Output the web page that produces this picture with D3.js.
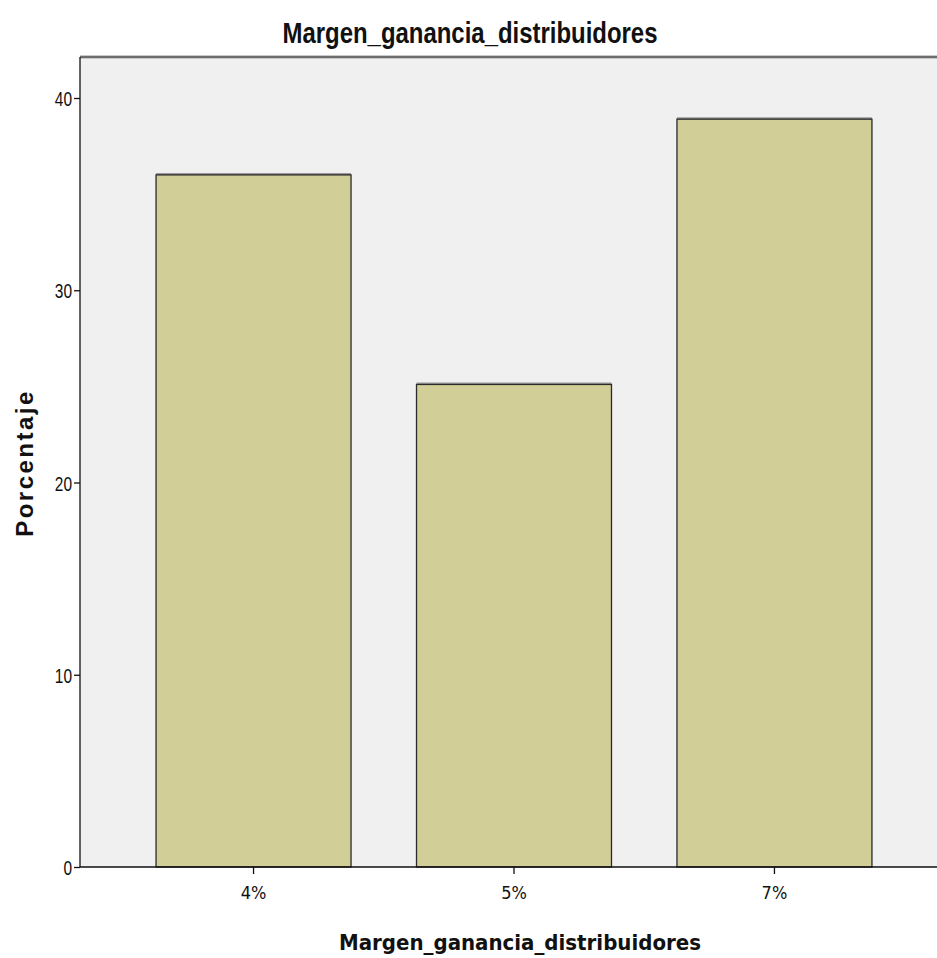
<!DOCTYPE html>
<html>
<head>
<meta charset="utf-8">
<script src="https://cdn.jsdelivr.net/npm/d3@7"></script>
<style>
  html, body { margin: 0; padding: 0; background: #ffffff; }
  svg { display: block; }
</style>
</head>
<body>
<script>
// Percentage of distributors by profit margin
const categories = ["4%", "5%", "7%"];
const percentages = [36.0, 25.1, 38.9];
const yTicks = [0, 10, 20, 30, 40];
const chartTitle = "Margen_ganancia_distribuidores";
const xTitle = "Margen_ganancia_distribuidores";
const yTitle = "Porcentaje";

const W = 937, H = 958;
const plot = { left: 80, top: 57, right: 948, bottom: 867 };

const svg = d3.select("body").append("svg")
  .attr("width", W).attr("height", H);

const x = d3.scaleBand()
  .domain(categories)
  .range([plot.left, plot.right])
  .paddingInner(0.2514)
  .paddingOuter(0.292);

const y = d3.scaleLinear()
  .domain([0, 40])
  .range([plot.bottom, 98]);

// Plot background
svg.append("rect")
  .attr("x", plot.left).attr("y", plot.top)
  .attr("width", plot.right - plot.left)
  .attr("height", plot.bottom - plot.top)
  .attr("fill", "#f0f0f0");

// Top frame line with soft shadow
svg.append("line")
  .attr("x1", plot.left).attr("x2", plot.right)
  .attr("y1", plot.top).attr("y2", plot.top)
  .attr("stroke", "#b8b8b8").attr("stroke-width", 3.5);
svg.append("line")
  .attr("x1", plot.left).attr("x2", plot.right)
  .attr("y1", plot.top).attr("y2", plot.top)
  .attr("stroke", "#555").attr("stroke-width", 1.3);

// Bars
const bars = svg.append("g");
bars.selectAll("line.shade")
  .data(categories)
  .join("line")
  .attr("class", "shade")
  .attr("x1", d => x(d)).attr("x2", d => x(d) + x.bandwidth())
  .attr("y1", (d, i) => y(percentages[i])).attr("y2", (d, i) => y(percentages[i]))
  .attr("stroke", "#9a9a9a").attr("stroke-width", 4);
bars.selectAll("rect")
  .data(categories)
  .join("rect")
  .attr("x", d => x(d))
  .attr("y", (d, i) => y(percentages[i]))
  .attr("width", x.bandwidth())
  .attr("height", (d, i) => y(0) - y(percentages[i]))
  .attr("fill", "#d2ce97")
  .attr("stroke", "#2a2a2a")
  .attr("stroke-width", 1.3);

// Y axis
const yAxis = svg.append("g")
  .attr("transform", `translate(${plot.left},0)`)
  .call(d3.axisLeft(y).tickValues(yTicks).tickSize(6).tickSizeOuter(0).tickPadding(2));
yAxis.select(".domain").attr("d", `M0,${plot.top}V${plot.bottom}`).attr("stroke", "#111").attr("stroke-width", 1.3);
yAxis.selectAll(".tick line").attr("stroke", "#111").attr("stroke-width", 1.3);
yAxis.selectAll(".tick text")
  .attr("font-family", "'Liberation Sans', Arial, sans-serif")
  .attr("font-size", 21).attr("fill", "#111")
  .attr("dy", "0.36em")
  .attr("textLength", d => String(d).length * 8.6)
  .attr("lengthAdjust", "spacingAndGlyphs");

// X axis
const xAxis = svg.append("g")
  .attr("transform", `translate(0,${plot.bottom})`)
  .call(d3.axisBottom(x).tickSize(7).tickSizeOuter(0).tickPadding(12));
xAxis.select(".domain").attr("d", `M${plot.left},0H${plot.right}`).attr("stroke", "#111").attr("stroke-width", 1.3);
xAxis.selectAll(".tick line").attr("stroke", "#111").attr("stroke-width", 1.3);
xAxis.selectAll(".tick text")
  .attr("font-family", "'DejaVu Sans Condensed', 'Liberation Sans Narrow', sans-serif")
  .attr("font-size", 18).attr("fill", "#111");

// Titles
svg.append("text")
  .attr("x", 470).attr("y", 43)
  .attr("text-anchor", "middle")
  .attr("font-family", "'Liberation Sans', Arial, sans-serif")
  .attr("font-weight", "bold")
  .attr("font-size", 29)
  .attr("textLength", 375)
  .attr("lengthAdjust", "spacingAndGlyphs")
  .attr("fill", "#111")
  .text(chartTitle);

svg.append("text")
  .attr("x", 520).attr("y", 950)
  .attr("text-anchor", "middle")
  .attr("font-family", "'DejaVu Sans Condensed', 'Liberation Sans Narrow', sans-serif")
  .attr("font-weight", "bold")
  .attr("font-size", 22)
  .attr("textLength", 362)
  .attr("lengthAdjust", "spacingAndGlyphs")
  .attr("fill", "#111")
  .text(xTitle);

svg.append("text")
  .attr("transform", "translate(33,463) rotate(-90)")
  .attr("text-anchor", "middle")
  .attr("font-family", "'Liberation Sans', Arial, sans-serif")
  .attr("font-weight", "bold")
  .attr("font-size", 24)
  .attr("letter-spacing", 2.5)
  .attr("fill", "#111")
  .text(yTitle);
</script>
</body>
</html>
